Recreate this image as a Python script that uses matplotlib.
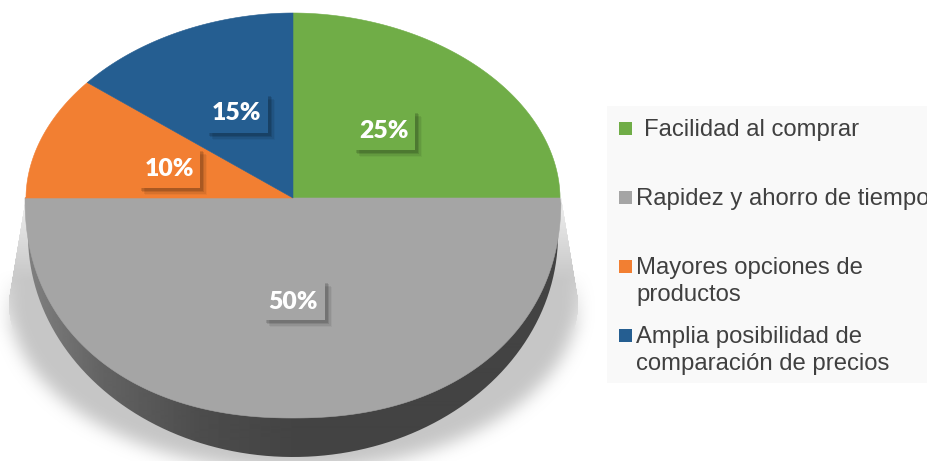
import numpy as np
import matplotlib
matplotlib.use("Agg")
import matplotlib.pyplot as plt
import matplotlib.patheffects as pe
from matplotlib.patches import PathPatch, Polygon, Rectangle
from matplotlib.path import Path

plt.rcParams["font.family"] = ["Liberation Sans", "DejaVu Sans"]

# slices, clockwise from the top
valores = [25, 50, 10, 15]
colores = ["#70AD47", "#A5A5A5", "#F27F32", "#255E91"]
etiquetas = ["25%", "50%", "10%", "15%"]
leyenda = ["Facilidad al comprar", "Rapidez y ahorro de tiempo",
           "Mayores opciones de\nproductos",
           "Amplia posibilidad de\ncomparación de precios"]

W, H = 928, 461
cx, cy, r_sup, r_inf = 293, 198, 185, 220

fig = plt.figure(figsize=(W / 100, H / 100), dpi=100)
ax = fig.add_axes([0, 0, 1, 1])


def borde(theta):
    # the picture is in perspective: upper half is shallow, lower deeper and fuller
    theta = np.asarray(theta) % 360
    izq = (theta > 90) & (theta < 180)
    theta = np.where(izq, theta - 3.8 * np.sin(np.radians(2 * (theta - 90))), theta)
    x = np.cos(np.radians(theta))
    y = np.sin(np.radians(theta))
    abajo = y < -1e-9
    yb = -(1 - np.abs(x) ** 2.2) ** (1 / 2.2)
    ya = (1 - np.abs(x) ** 1.95) ** (1 / 1.95)
    py = np.where(abajo, cy - yb * r_inf, cy - ya * r_sup)
    px = cx + x * np.where(abajo, 268, 267)
    return np.column_stack([px, py])


# soft shadow behind the pie
yy, xx = np.mgrid[0:H + 40, 0:W]
ancho = np.where(yy < 300, 268 + (yy - 198) / 102 * 17,
                 285 * np.sqrt(np.clip(1 - ((yy - 300) / 170.0) ** 2, 0, 1)))
nitida = ((np.abs(xx - cx) < ancho) & (yy > 170)).astype(float)
mask = nitida.copy()
for ancho_caja in [9, 15, 21]:
    caja = np.ones(ancho_caja) / ancho_caja
    mask = np.apply_along_axis(np.convolve, 0, mask, caja, mode="same")
    mask = np.apply_along_axis(np.convolve, 1, mask, caja, mode="same")
peso = np.clip((yy - 270) / 60, 0, 1)
mask = mask * peso + nitida * (1 - peso)
mask *= np.clip(0.25 + (yy - 198) / 110, 0, 1)
rgba = np.zeros(mask.shape + (4,))
rgba[..., :3] = 0.78
rgba[..., 3] = mask
ax.imshow(rgba[:H], extent=(0, W, H, 0), zorder=1, interpolation="bilinear")

# side wall of the disc with its horizontal gradient
t = np.linspace(0, np.pi, 200)
pared = np.column_stack([cx + 265 * np.cos(t), cy + 37 + 222 * np.sin(t)])
sx = [30, 100, 200, 293, 560]
sv = [0.50, 0.39, 0.30, 0.265, 0.265]
grad = np.interp(np.arange(W), sx, sv)
im = ax.imshow(np.tile(grad, (H, 1)), extent=(0, W, H, 0), cmap="gray",
               vmin=0, vmax=1, zorder=2, interpolation="bilinear")
im.set_clip_path(PathPatch(Path(pared), transform=ax.transData))

# slices: pie gives the angles, the outlines then get the perspective
cunas, _ = ax.pie(valores, startangle=90, counterclock=False, radius=1)
for cuna, color in zip(cunas, colores):
    arco = borde(np.linspace(cuna.theta1, cuna.theta2, 200))
    cuna.remove()
    ax.add_patch(Polygon(np.vstack([[cx, cy], arco]), closed=True, facecolor=color,
                         edgecolor=color, lw=0.4, zorder=3))

# value labels in little raised boxes
pos_caja = [(353, 110), (263, 280), (138, 148), (206, 93)]
pos_etq = [(384, 131), (293, 302), (169, 169), (236, 113)]
for (bx, by), (x, y), txt, color in zip(pos_caja, pos_etq, etiquetas, colores):
    caja_etq = Rectangle((bx, by), 62, 40, fc=color, ec="none", zorder=4)
    caja_etq.set_path_effects([
        pe.SimplePatchShadow(offset=(5, -5), shadow_rgbFace="k", alpha=0.04),
        pe.SimplePatchShadow(offset=(4, -4), shadow_rgbFace="k", alpha=0.07),
        pe.SimplePatchShadow(offset=(3, -3), shadow_rgbFace="k", alpha=0.10),
        pe.SimplePatchShadow(offset=(2, -2), shadow_rgbFace="k", alpha=0.12),
        pe.Normal()])
    ax.add_patch(caja_etq)
    ax.text(x, y, txt, color="white", fontsize=17.8, fontweight="heavy",
            family=["Lato", "DejaVu Sans"], ha="center", va="center", zorder=5)

# legend panel
ax.add_patch(Rectangle((607, 106), W - 607, 277, fc="#F9F9F9", ec="none", zorder=1))
y_marca = [128, 197, 266, 335]
x_texto = [644, 636, 636, 636]
y_texto = [132, 201, 270, 339]
for ym, xt, yt, txt, color in zip(y_marca, x_texto, y_texto, leyenda, colores):
    ax.add_patch(Rectangle((619, ym - 6.5), 13, 13, fc=color, ec="none", zorder=3))
    ax.text(xt, yt - 13, txt, color="#404040", fontsize=17.2, va="top", ha="left",
            linespacing=1.27, zorder=3, clip_on=True)

ax.set_xlim(0, W)
ax.set_ylim(H, 0)
ax.set_aspect("auto")
ax.axis("off")

fig.savefig("out.png", dpi=100)
